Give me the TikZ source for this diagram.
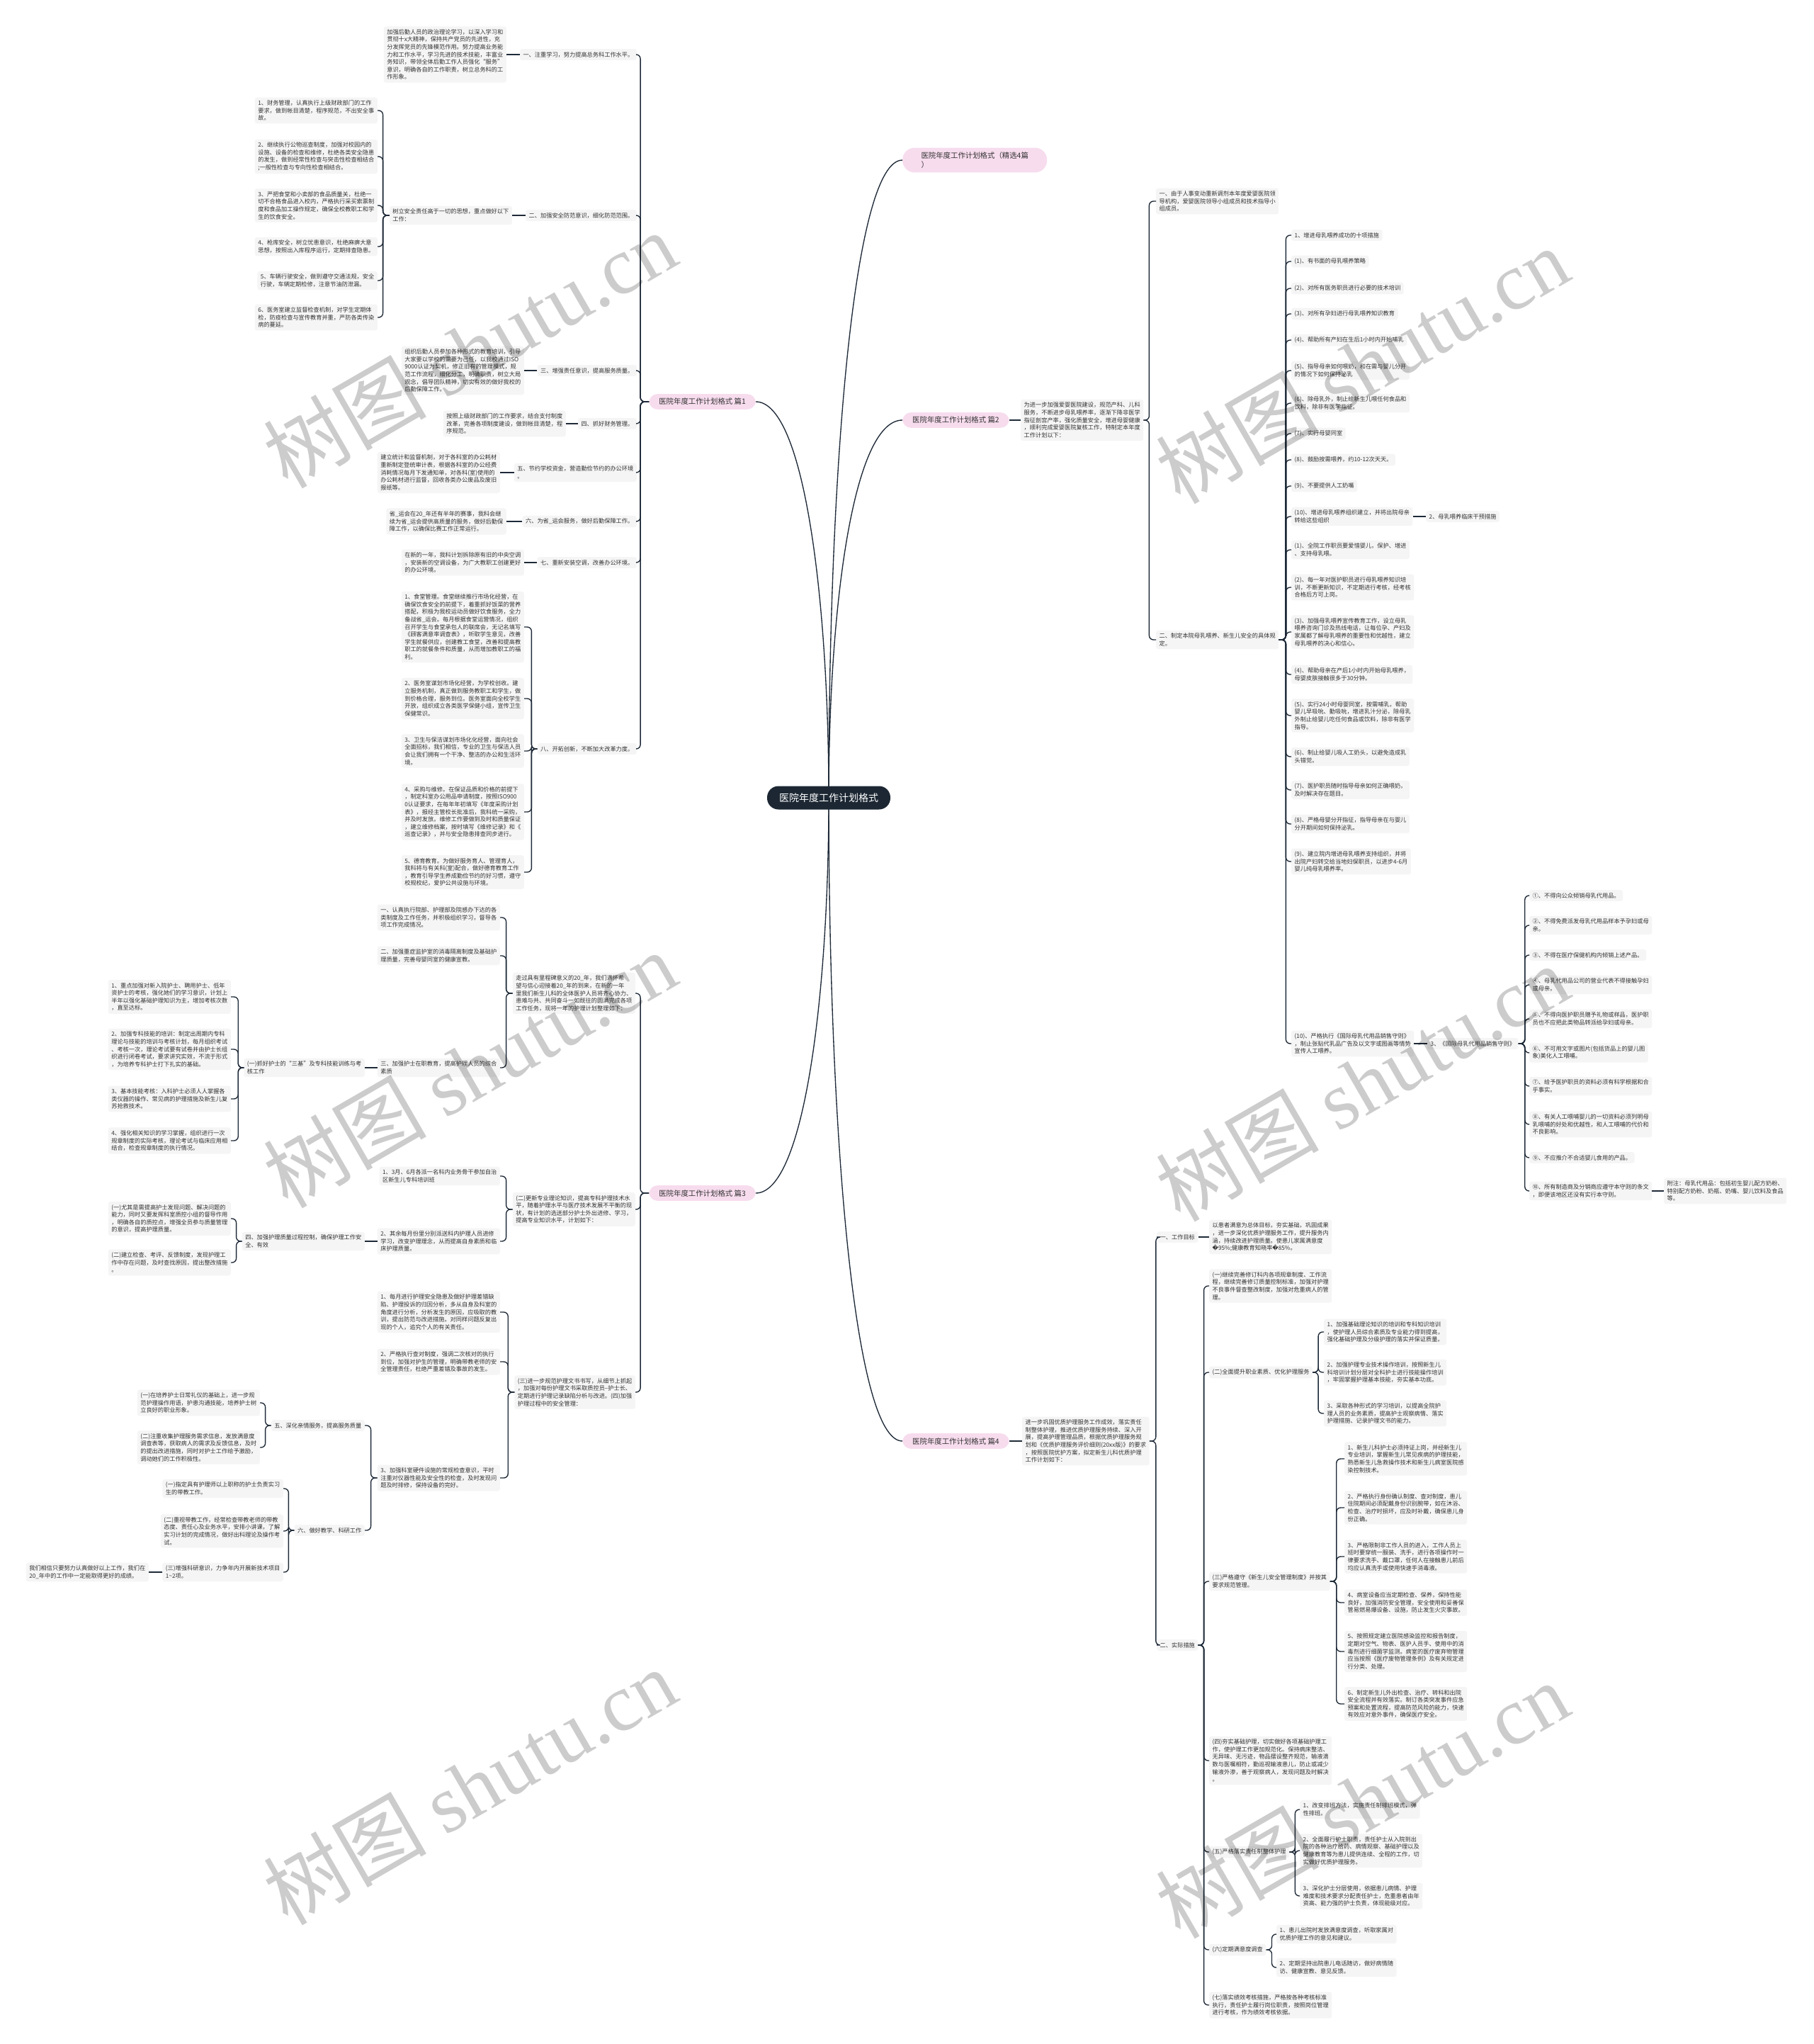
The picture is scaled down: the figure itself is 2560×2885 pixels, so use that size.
\documentclass[tikz,border=0pt]{standalone}
\usepackage{fontspec}
\setmainfont{Noto Sans CJK SC}
\newfontfamily\wmcjk{Noto Sans CJK SC}
\newfontfamily\wmlat{Liberation Serif}
\newfontfamily\dejavu{DejaVu Sans}
\definecolor{linec}{HTML}{1E2A38}
\definecolor{leafc}{HTML}{F5F5F5}
\definecolor{pinkc}{HTML}{F7DCEE}
\definecolor{rootc}{HTML}{1C2733}
\definecolor{textc}{HTML}{333333}
\newcommand\leaffont{\fontsize{8.2pt}{10.6pt}\selectfont}
\newcommand\pillfont{\fontsize{10.4pt}{13pt}\selectfont}
\newcommand\rootfont{\fontsize{14pt}{16pt}\selectfont}
\newcommand\cR[3][8]{\draw[conn] (#2.east) -- ++(#1,0) |- (#3.west);}
\newcommand\cL[3][8]{\draw[conn] (#2.west) -- ++(-#1,0) |- (#3.east);}
\newcommand\sR[2]{\draw[conn] (#1.east) -- (#2.west);}
\newcommand\sL[2]{\draw[conn] (#1.west) -- (#2.east);}
\begin{document}
\begin{tikzpicture}[x=1pt,y=-1pt,
  conn/.style={draw=linec,line width=1.35pt,rounded corners=6pt},
  leaf/.style={fill=leafc,rounded corners=3pt,inner xsep=4.5pt,inner ysep=4pt,align=left,font=\leaffont,text=textc},
  pill/.style={fill=pinkc,rounded corners=12pt,inner xsep=14pt,inner ysep=6pt,align=left,font=\pillfont,text=textc},
  root/.style={fill=rootc,rounded corners=16pt,inner xsep=17pt,minimum height=33pt,font=\rootfont,text=white},
  wm/.style={rotate=30,opacity=0.2,text=black,font=\fontsize{115pt}{120pt}\selectfont}]
\useasboundingbox (0,0) rectangle (2560,2885);
\fill[white] (0,0) rectangle (2560,2885);

% ===================== 篇1 =====================
\node[pill,anchor=east] (p1) at (1067,567) {医院年度工作计划格式 篇1};
\node[leaf,anchor=east] (a1) at (899,77) {一、注重学习，努力提高总务科工作水平。};
\node[leaf,anchor=east] (a1l) at (715,77) {加强后勤人员的政治理论学习，以深入学习和\\贯彻十x大精神，保持共产党员的先进性，充\\分发挥党员的先锋模范作用。努力提高业务能\\力和工作水平，学习先进的技术技能，丰富业\\务知识，带领全体后勤工作人员强化“服务”\\意识，明确各自的工作职责，树立总务科的工\\作形象。};
\node[leaf,anchor=east] (a2) at (899,304) {二、加强安全防范意识，细化防范范围。};
\node[leaf,anchor=east] (a2c) at (723,304) {树立安全责任高于一切的思想，重点做好以下\\工作：};
\node[leaf,anchor=east] (a2l1) at (533,156) {1、财务管理，认真执行上级财政部门的工作\\要求，做到帐目清楚，程序规范，不出安全事\\故。};
\node[leaf,anchor=east] (a2l2) at (533,221) {2、继续执行公物巡查制度，加强对校园内的\\设施、设备的检查和维修，杜绝各类安全隐患\\的发生，做到经常性检查与突击性检查相结合\\;一般性检查与专向性检查相结合。};
\node[leaf,anchor=east] (a2l3) at (533,290) {3、严把食堂和小卖部的食品质量关，杜绝一\\切不合格食品进入校内，严格执行采买索票制\\度和食品加工操作规定，确保全校教职工和学\\生的饮食安全。};
\node[leaf,anchor=east] (a2l4) at (533,348) {4、枪库安全，树立忧患意识，杜绝麻痹大意\\思想，按照出入库程序运行，定期排查隐患。};
\node[leaf,anchor=east] (a2l5) at (533,396) {5、车辆行驶安全，做到遵守交通法规，安全\\行驶，车辆定期检修，注意节油防泄漏。};
\node[leaf,anchor=east] (a2l6) at (533,448) {6、医务室建立监督检查机制，对学生定期体\\检，防疫检查与宣传教育并重，严防各类传染\\病的蔓延。};
\node[leaf,anchor=east] (a3) at (899,523) {三、增强责任意识，提高服务质量。};
\node[leaf,anchor=east] (a3l) at (740,523) {组织后勤人员参加各种形式的教育培训，引导\\大家要以学校的需要为己任，以我校通过ISO\\9000认证为契机，修正旧有的管理模式，规\\范工作流程，细化分工，明确职责，树立大局\\观念，倡导团队精神，切实有效的做好我校的\\后勤保障工作。};
\node[leaf,anchor=east] (a4) at (899,598) {四、抓好财务管理。};
\node[leaf,anchor=east] (a4l) at (799,598) {按照上级财政部门的工作要求，结合支付制度\\改革，完善各项制度建设，做到帐目清楚，程\\序规范。};
\node[leaf,anchor=east] (a5) at (899,667) {五、节约学校资金，营造勤俭节约的办公环境\\。};
\node[leaf,anchor=east] (a5l) at (706,667) {建立统计和监督机制，对于各科室的办公耗材\\重新制定登统审计表，根据各科室的办公经费\\消耗情况每月下发通知单，对各科(室)使用的\\办公耗材进行监督，回收各类办公废品及废旧\\报纸等。};
\node[leaf,anchor=east] (a6) at (899,736) {六、为省\_运会服务，做好后勤保障工作。};
\node[leaf,anchor=east] (a6l) at (715,736) {省\_运会在20\_年还有半年的赛事，我科会继\\续为省\_运会提供高质量的服务，做好后勤保\\障工作，以确保比赛工作正常运行。};
\node[leaf,anchor=east] (a7) at (899,794) {七、重新安装空调，改善办公环境。};
\node[leaf,anchor=east] (a7l) at (740,794) {在新的一年，我科计划拆除原有旧的中央空调\\，安装新的空调设备，为广大教职工创建更好\\的办公环境。};
\node[leaf,anchor=east] (a8) at (899,1057) {八、开拓创新，不断加大改革力度。};
\node[leaf,anchor=east] (a8l1) at (740,885) {1、食堂管理。食堂继续推行市场化经营，在\\确保饮食安全的前提下，着重抓好饭菜的营养\\搭配，积极为我校运动员做好饮食服务，全力\\备战省\_运会。每月根据食堂运营情况，组织\\召开学生与食堂承包人的联席会，无记名填写\\《顾客满意率调查表》，听取学生意见，改善\\学生就餐供应，创建教工食堂，改善和提高教\\职工的就餐条件和质量，从而增加教职工的福\\利。};
\node[leaf,anchor=east] (a8l2) at (740,986) {2、医务室谋划市场化经营，为学校创收。建\\立服务机制，真正做到服务教职工和学生，做\\到价格合理，服务到位。医务室面向全校学生\\开放，组织成立各类医学保健小组，宣传卫生\\保健常识。};
\node[leaf,anchor=east] (a8l3) at (740,1060) {3、卫生与保洁谋划市场化化经营，面向社会\\全面招标，我们相信，专业的卫生与保洁人员\\会让我们拥有一个干净、整洁的办公和生活环\\境。};
\node[leaf,anchor=east] (a8l4) at (740,1146) {4、采购与维修。在保证品质和价格的前提下\\，制定科室办公用品申请制度，按照ISO900\\0认证要求，在每年年初填写《年度采购计划\\表》，报经主管校长批准后，我科统一采购，\\并及时发放。维修工作要做到及时和质量保证\\，建立维修档案，按时填写《维修记录》和《\\巡查记录》，并与安全隐患排查同步进行。};
\node[leaf,anchor=east] (a8l5) at (740,1231) {5、德育教育。为做好服务育人、管理育人，\\我科将与有关科(室)配合，做好德育教育工作\\，教育引导学生养成勤俭节约的好习惯，遵守\\校规校纪，爱护公共设施与环境。};

\foreach \c in {a1,a2,a3,a4,a5,a6,a7,a8} {\cL[12]{p1}{\c}}
\sL{a1}{a1l} \sL{a2}{a2c} \sL{a3}{a3l} \sL{a4}{a4l} \sL{a5}{a5l} \sL{a6}{a6l} \sL{a7}{a7l}
\foreach \c in {a2l1,a2l2,a2l3,a2l4,a2l5,a2l6} {\cL[9]{a2c}{\c}}
\foreach \c in {a8l1,a8l2,a8l3,a8l4,a8l5} {\cL[8]{a8}{\c}}

% ===================== 篇3 =====================
\node[pill,anchor=east] (p3) at (1067,1684) {医院年度工作计划格式 篇3};
\node[leaf,anchor=east] (b1) at (897,1402) {走过具有里程碑意义的20\_年，我们满怀希\\望与信心迎接着20\_年的到来，在新的一年\\里我们新生儿科的全体医护人员将齐心协力、\\患难与共、共同奋斗一如既往的圆满完成各项\\工作任务，现将一年的护理计划整理如下：};
\node[leaf,anchor=east] (b1a) at (706,1295) {一、认真执行院部、护理部及院感办下达的各\\类制度及工作任务，并积极组织学习，督导各\\项工作完成情况。};
\node[leaf,anchor=east] (b1b) at (706,1349) {二、加强重症监护室的消毒隔离制度及基础护\\理质量，完善母婴同室的健康宣教。};
\node[leaf,anchor=east] (b1c) at (706,1507) {三、加强护士在职教育，提高护理人员的综合\\素质};
\node[leaf,anchor=east] (b1c1) at (515,1507) {(一)抓好护士的“三基”及专科技能训练与考\\核工作};
\node[leaf,anchor=east] (s1) at (326,1407) {1、重点加强对新入院护士、聘用护士、低年\\资护士的考核，强化她们的学习意识，计划上\\半年以强化基础护理知识为主，增加考核次数\\，直至达标。};
\node[leaf,anchor=east] (s2) at (326,1481) {2、加强专科技能的培训：制定出周期内专科\\理论与技能的培训与考核计划，每月组织考试\\、考核一次，理论考试要有试卷并由护士长组\\织进行闭卷考试，要求讲究实效，不流于形式\\，为培养专科护士打下扎实的基础。};
\node[leaf,anchor=east] (s3) at (326,1551) {3、基本技能考核：入科护士必须人人掌握各\\类仪器的操作、常见病的护理措施及新生儿复\\苏抢救技术。};
\node[leaf,anchor=east] (s4) at (326,1610) {4、强化相关知识的学习掌握，组织进行一次\\规章制度的实际考核，理论考试与临床应用相\\结合，检查规章制度的执行情况。};
\node[leaf,anchor=east] (b2) at (897,1707) {(二)更新专业理论知识，提高专科护理技术水\\平，随着护理水平与医疗技术发展不平衡的现\\状，有计划的选送部分护士外出进修、学习，\\提高专业知识水平，计划如下：};
\node[leaf,anchor=east] (b2a) at (706,1660) {1、3月、6月各派一名科内业务骨干参加自治\\区新生儿专科培训班};
\node[leaf,anchor=east] (b2b) at (706,1752) {2、其余每月份里分别派送科内护理人员进修\\学习，改变护理理念，从而提高自身素质和临\\床护理质量。};
\node[leaf,anchor=east] (b2b1) at (515,1752) {四、加强护理质量过程控制，确保护理工作安\\全、有效};
\node[leaf,anchor=east] (t1) at (326,1720) {(一)尤其是需提高护士发现问题、解决问题的\\能力，同时又要发挥科室质控小组的督导作用\\，明确各自的质控点，增强全员参与质量管理\\的意识，提高护理质量。};
\node[leaf,anchor=east] (t2) at (326,1782) {(二)建立检查、考评、反馈制度，发现护理工\\作中存在问题，及时查找原因，提出整改措施\\。};
\node[leaf,anchor=east] (b3) at (897,1965) {(三)进一步规范护理文书书写，从细节上抓起\\，加强对每份护理文书采取质控员--护士长、\\定期进行护理记录缺陷分析与改进。(四)加强\\护理过程中的安全管理：};
\node[leaf,anchor=east] (b3a) at (706,1852) {1、每月进行护理安全隐患及做好护理差错缺\\陷、护理投诉的归因分析，多从自身及科室的\\角度进行分析，分析发生的原因，应吸取的教\\训，提出防范与改进措施。对同样问题反复出\\现的个人，追究个人的有关责任。};
\node[leaf,anchor=east] (b3b) at (706,1922) {2、严格执行查对制度，强调二次核对的执行\\到位，加强对护生的管理，明确带教老师的安\\全管理责任，杜绝严重差错及事故的发生。};
\node[leaf,anchor=east] (b3c) at (706,2086) {3、加强科室硬件设施的常规检查意识，平时\\注重对仪器性能及安全性的检查，及时发现问\\题及时排修，保持设备的完好。};
\node[leaf,anchor=east] (u1) at (515,2012) {五、深化亲情服务，提高服务质量};
\node[leaf,anchor=east] (u2) at (515,2160) {六、做好教学、科研工作};
\node[leaf,anchor=east] (v1) at (367,1980) {(一)在培养护士日常礼仪的基础上，进一步规\\范护理操作用语，护患沟通技能，培养护士树\\立良好的职业形象。};
\node[leaf,anchor=east] (v2) at (367,2043) {(二)注重收集护理服务需求信息，发放满意度\\调查表等，获取病人的需求及反馈信息，及时\\的提出改进措施，同时对护士工作给予激励，\\调动她们的工作积极性。};
\node[leaf,anchor=east] (w1) at (400,2101) {(一)指定具有护理师以上职称的护士负责实习\\生的带教工作。};
\node[leaf,anchor=east] (w2) at (400,2161) {(二)重视带教工作，经常检查带教老师的带教\\态度、责任心及业务水平，安排小讲课，了解\\实习计划的完成情况，做好出科理论及操作考\\试。};
\node[leaf,anchor=east] (w3) at (400,2219) {(三)增强科研意识，力争年内开展新技术项目\\1\textasciitilde{}2项。};
\node[leaf,anchor=east] (zz) at (210,2219) {我们相信只要努力认真做好以上工作，我们在\\20\_年中的工作中一定能取得更好的成绩。};

\foreach \c in {b1,b2,b3} {\cL[12]{p3}{\c}}
\foreach \c in {b1a,b1b,b1c} {\cL[9]{b1}{\c}}
\sL{b1c}{b1c1}
\foreach \c in {s1,s2,s3,s4} {\cL[8]{b1c1}{\c}}
\foreach \c in {b2a,b2b} {\cL[9]{b2}{\c}}
\sL{b2b}{b2b1}
\foreach \c in {t1,t2} {\cL[8]{b2b1}{\c}}
\foreach \c in {b3a,b3b,b3c} {\cL[9]{b3}{\c}}
\foreach \c in {u1,u2} {\cL[9]{b3c}{\c}}
\foreach \c in {v1,v2} {\cL[8]{u1}{\c}}
\foreach \c in {w1,w2,w3} {\cL[8]{u2}{\c}}
\sL{w3}{zz}

% ===================== 精选 =====================
\node[pill,anchor=west,minimum width=204pt,rounded corners=17pt] (p0) at (1274,226) {医院年度工作计划格式（精选4篇\\）};

% ===================== 篇2 =====================
\node[pill,anchor=west] (p2) at (1274,593) {医院年度工作计划格式 篇2};
\node[leaf,anchor=west] (c0) at (1441,593) {为进一步加强爱婴医院建设，规范产科、儿科\\服务，不断进步母乳喂养率，逐渐下降非医学\\指征剖宫产率，强化质量安全，增进母婴健康\\，顺利完成爱婴医院复核工作，特制定本年度\\工作计划以下：};
\node[leaf,anchor=west] (c1) at (1632,284) {一、由于人事变动重新调剂本年度爱婴医院领\\导机构，爱婴医院领导小组成员和技术指导小\\组成员。};
\node[leaf,anchor=west] (c2) at (1632,903) {二、制定本院母乳喂养、新生儿安全的具体规\\定。};
\node[leaf,anchor=west] (m1) at (1823,332) {1、增进母乳喂养成功的十项措施};
\node[leaf,anchor=west] (m2) at (1823,369) {(1)、有书面的母乳喂养策略};
\node[leaf,anchor=west] (m3) at (1823,407) {(2)、对所有医务职员进行必要的技术培训};
\node[leaf,anchor=west] (m4) at (1823,443) {(3)、对所有孕妇进行母乳喂养知识教育};
\node[leaf,anchor=west] (m5) at (1823,480) {(4)、帮助所有产妇在生后1小时内开始哺乳};
\node[leaf,anchor=west] (m6) at (1823,523) {(5)、指导母亲如何喂奶，和在需与婴儿分开\\的情况下如何保持泌乳};
\node[leaf,anchor=west] (m7) at (1823,569) {(6)、除母乳外，制止给新生儿喂任何食品和\\饮料，除非有医学指征。};
\node[leaf,anchor=west] (m8) at (1823,612) {(7)、实行母婴同室};
\node[leaf,anchor=west] (m9) at (1823,649) {(8)、鼓励按需喂养，约10-12次天天。};
\node[leaf,anchor=west] (m10) at (1823,686) {(9)、不要提供人工奶嘴};
\node[leaf,anchor=west] (m11) at (1823,729) {(10)、增进母乳喂养组织建立，并将出院母亲\\转给这些组织};
\node[leaf,anchor=west] (mm) at (2013,729) {2、母乳喂养临床干预措施};
\node[leaf,anchor=west] (m12) at (1823,776) {(1)、全院工作职员要爱惜婴儿，保护、增进\\、支持母乳喂。};
\node[leaf,anchor=west] (m13) at (1823,829) {(2)、每一年对医护职员进行母乳喂养知识培\\训，不断更新知识，不定期进行考核，经考核\\合格后方可上岗。};
\node[leaf,anchor=west] (m14) at (1823,892) {(3)、加强母乳喂养宣传教育工作，设立母乳\\喂养咨询门诊及热线电话，让每位孕、产妇及\\家属都了解母乳喂养的重要性和优越性，建立\\母乳喂养的决心和信心。};
\node[leaf,anchor=west] (m15) at (1823,952) {(4)、帮助母亲在产后1小时内开始母乳喂养，\\母婴皮肤接触很多于30分钟。};
\node[leaf,anchor=west] (m16) at (1823,1010) {(5)、实行24小时母婴同室，按需哺乳，帮助\\婴儿早吸吮、勤吸吮，增进乳汁分泌，除母乳\\外制止给婴儿吃任何食品或饮料，除非有医学\\指导。};
\node[leaf,anchor=west] (m17) at (1823,1068) {(6)、制止给婴儿吸人工奶头，以避免造成乳\\头错觉。};
\node[leaf,anchor=west] (m18) at (1823,1115) {(7)、医护职员随时指导母亲如何正确喂奶，\\及时解决存在题目。};
\node[leaf,anchor=west] (m19) at (1823,1163) {(8)、严格母婴分开指征，指导母亲在与婴儿\\分开期间如何保持泌乳。};
\node[leaf,anchor=west] (m20) at (1823,1216) {(9)、建立院内增进母乳喂养支持组织，并将\\出院产妇转交给当地妇保职员，以进步4-6月\\婴儿纯母乳喂养率。};
\node[leaf,anchor=west] (m21) at (1823,1473) {(10)、严格执行《国际母乳代用品销售守则》\\，制止张贴代乳品广告及以文字或图画等情势\\宣传人工喂养。};
\node[leaf,anchor=west] (g0) at (2015,1473) {3、《国际母乳代用品销售守则》};
\node[leaf,anchor=west] (g1) at (2159,1264) {①、不得向公众倾销母乳代用品。};
\node[leaf,anchor=west] (g2) at (2159,1306) {②、不得免费派发母乳代用品样本予孕妇或母\\亲。};
\node[leaf,anchor=west] (g3) at (2159,1348) {③、不得在医疗保健机构内倾销上述产品。};
\node[leaf,anchor=west] (g4) at (2159,1390) {④、母乳代用品公司的营业代表不得接触孕妇\\或母亲。};
\node[leaf,anchor=west] (g5) at (2159,1438) {⑤、不得向医护职员赠予礼物或样品，医护职\\员也不应把此类物品转派给孕妇或母亲。};
\node[leaf,anchor=west] (g6) at (2159,1486) {⑥、不可用文字或图片(包括货品上的婴儿图\\象)美化人工喂哺。};
\node[leaf,anchor=west] (g7) at (2159,1533) {⑦、给予医护职员的资料必须有科学根据和合\\乎事实。};
\node[leaf,anchor=west] (g8) at (2159,1587) {⑧、有关人工喂哺婴儿的一切资料必须列明母\\乳喂哺的好处和优越性，和人工喂哺的代价和\\不良影响。};
\node[leaf,anchor=west] (g9) at (2159,1634) {⑨、不应推介不合适婴儿食用的产品。};
\node[leaf,anchor=west] (g10) at (2159,1681) {⑩、所有制造商及分销商应遵守本守则的条文\\，即便该地区还没有实行本守则。};
\node[leaf,anchor=west] (gz) at (2349,1681) {附注：母乳代用品：包括初生婴儿配方奶粉、\\特别配方奶粉、奶瓶、奶嘴、婴儿饮料及食品\\等。};

\sR{p2}{c0}
\foreach \c in {c1,c2} {\cR[8]{c0}{\c}}
\foreach \c in {m1,m2,m3,m4,m5,m6,m7,m8,m9,m10,m11,m12,m13,m14,m15,m16,m17,m18,m19,m20,m21} {\cR[10]{c2}{\c}}
\sR{m11}{mm}
\sR{m21}{g0}
\foreach \c in {g1,g2,g3,g4,g5,g6,g7,g8,g9,g10} {\cR[9]{g0}{\c}}
\sR{g10}{gz}

% ===================== 篇4 =====================
\node[pill,anchor=west] (p4) at (1274,2034) {医院年度工作计划格式 篇4};
\node[leaf,anchor=west] (d0) at (1443,2034) {进一步巩固优质护理服务工作成效，落实责任\\制整体护理，推进优质护理服务持续、深入开\\展，提高护理管理品质，根据优质护理服务规\\划和《优质护理服务评价细则(20xx版)》的要求\\，按照医院优护方案，拟定新生儿科优质护理\\工作计划如下：};
\node[leaf,anchor=west] (d1) at (1633,1746) {一、工作目标};
\node[leaf,anchor=west] (d1l) at (1707,1746) {以患者满意为总体目标，夯实基础，巩固成果\\，进一步深化优质护理服务工作，提升服务内\\涵，持续改进护理质量。使患儿家属满意度\\{\dejavu �}95\%;健康教育知晓率{\dejavu �}85\%。};
\node[leaf,anchor=west] (d2) at (1633,2322) {二、实际措施};
\node[leaf,anchor=west] (e1) at (1707,1815) {(一)继续完善修订科内各项规章制度、工作流\\程，继续完善修订质量控制标准，加强对护理\\不良事件督查整改制度，加强对危重病人的管\\理。};
\node[leaf,anchor=west] (e2) at (1707,1937) {(二)全面提升职业素质、优化护理服务};
\node[leaf,anchor=west] (f1) at (1869,1880) {1、加强基础理论知识的培训和专科知识培训\\，使护理人员综合素质及专业能力得到提高，\\强化基础护理及分级护理的落实并保证质量。};
\node[leaf,anchor=west] (f2) at (1869,1937) {2、加强护理专业技术操作培训，按照新生儿\\科培训计划分层对全科护士进行技能操作培训\\，牢固掌握护理基本技能，夯实基本功底。};
\node[leaf,anchor=west] (f3) at (1869,1995) {3、采取各种形式的学习培训，以提高全院护\\理人员的业务素质，提高护士观察病情、落实\\护理措施、记录护理文书的能力。};
\node[leaf,anchor=west] (e3) at (1707,2232) {(三)严格遵守《新生儿安全管理制度》并按其\\要求规范管理。};
\node[leaf,anchor=west] (h1) at (1898,2059) {1、新生儿科护士必须持证上岗，并经新生儿\\专业培训，掌握新生儿常见疾病的护理技能，\\熟悉新生儿急救操作技术和新生儿病室医院感\\染控制技术。};
\node[leaf,anchor=west] (h2) at (1898,2128) {2、严格执行身份确认制度、查对制度，患儿\\住院期间必须配戴身份识别腕带，如在沐浴、\\检查、治疗时损坏，应及时补戴，确保患儿身\\份正确。};
\node[leaf,anchor=west] (h3) at (1898,2197) {3、严格限制非工作人员的进入，工作人员上\\班时要穿统一服装、洗手，进行各项操作时一\\律要求洗手、戴口罩，任何人在接触患儿前后\\均应认真洗手或使用快速手消毒液。};
\node[leaf,anchor=west] (h4) at (1898,2262) {4、病室设备应当定期检查、保养，保持性能\\良好，加强消防安全管理，安全使用和妥善保\\管易燃易爆设备、设施，防止发生火灾事故。};
\node[leaf,anchor=west] (h5) at (1898,2331) {5、按照规定建立医院感染监控和报告制度，\\定期对空气、物表、医护人员手、使用中的消\\毒剂进行细菌学监测。病室的医疗废弃物管理\\应当按照《医疗废物管理条例》及有关规定进\\行分类、处理。};
\node[leaf,anchor=west] (h6) at (1898,2405) {6、制定新生儿外出检查、治疗、转科和出院\\安全流程并有效落实。制订各类突发事件应急\\预案和处置流程，提高防范风险的能力，快速\\有效应对意外事件，确保医疗安全。};
\node[leaf,anchor=west] (e4) at (1707,2485) {(四)夯实基础护理，切实做好各项基础护理工\\作，使护理工作更加规范化。保持病床整洁、\\无异味、无污迹，物品摆设整齐规范，输液滴\\数与医嘱相符，勤巡视输液患儿，防止或减少\\输液外渗，善于观察病人，发现问题及时解决\\。};
\node[leaf,anchor=west] (e5) at (1707,2614) {(五)严格落实责任制整体护理};
\node[leaf,anchor=west] (k1) at (1835,2554) {1、改变排班方法，实施责任制排班模式，弹\\性排班。};
\node[leaf,anchor=west] (k2) at (1835,2612) {2、全面履行护士职责，责任护士从入院到出\\院的各种治疗给药、病情观察、基础护理以及\\健康教育等为患儿提供连续、全程的工作，切\\实做好优质护理服务。};
\node[leaf,anchor=west] (k3) at (1835,2676) {3、深化护士分层使用，依据患儿病情、护理\\难度和技术要求分配责任护士，危重患者由年\\资高、能力强的护士负责，体现能级对应。};
\node[leaf,anchor=west] (e6) at (1707,2752) {(六)定期满意度调查};
\node[leaf,anchor=west] (q1) at (1802,2730) {1、患儿出院时发放满意度调查，听取家属对\\优质护理工作的意见和建议。};
\node[leaf,anchor=west] (q2) at (1802,2777) {2、定期坚持出院患儿电话随访，做好病情随\\访、健康宣教、意见反馈。};
\node[leaf,anchor=west] (e7) at (1707,2830) {(七)落实绩效考核措施，严格按各种考核标准\\执行，责任护士履行岗位职责，按照岗位管理\\进行考核，作为绩效考核依据。};

\sR{p4}{d0}
\foreach \c in {d1,d2} {\cR[9]{d0}{\c}}
\sR{d1}{d1l}
\foreach \c in {e1,e2,e3,e4,e5,e6,e7} {\cR[8]{d2}{\c}}
\foreach \c in {f1,f2,f3} {\cR[8]{e2}{\c}}
\foreach \c in {h1,h2,h3,h4,h5,h6} {\cR[9]{e3}{\c}}
\foreach \c in {k1,k2,k3} {\cR[8]{e5}{\c}}
\foreach \c in {q1,q2} {\cR[8]{e6}{\c}}

% ===================== root and main curves =====================
\coordinate (rc) at (1170,1126);
\draw[conn,rounded corners=0pt] (rc) .. controls (1170,846) and (1135,567) .. (p1.east);
\draw[conn,rounded corners=0pt] (rc) .. controls (1170,1405) and (1135,1684) .. (p3.east);
\draw[conn,rounded corners=0pt] (rc) .. controls (1170,676) and (1204,226) .. (p0.west);
\draw[conn,rounded corners=0pt] (rc) .. controls (1170,860) and (1204,593) .. (p2.west);
\draw[conn,rounded corners=0pt] (rc) .. controls (1170,1580) and (1204,2034) .. (p4.west);
\node[root] (root) at (rc) {医院年度工作计划格式};

% ===================== watermarks =====================
\foreach \x/\y in {663/493,1923/515,663/1509,1923/1528,663/2521,1923/2540}
  {\node[wm] at (\x,\y) {{\wmcjk 树图} {\wmlat shutu.cn}};}
\end{tikzpicture}
\end{document}
